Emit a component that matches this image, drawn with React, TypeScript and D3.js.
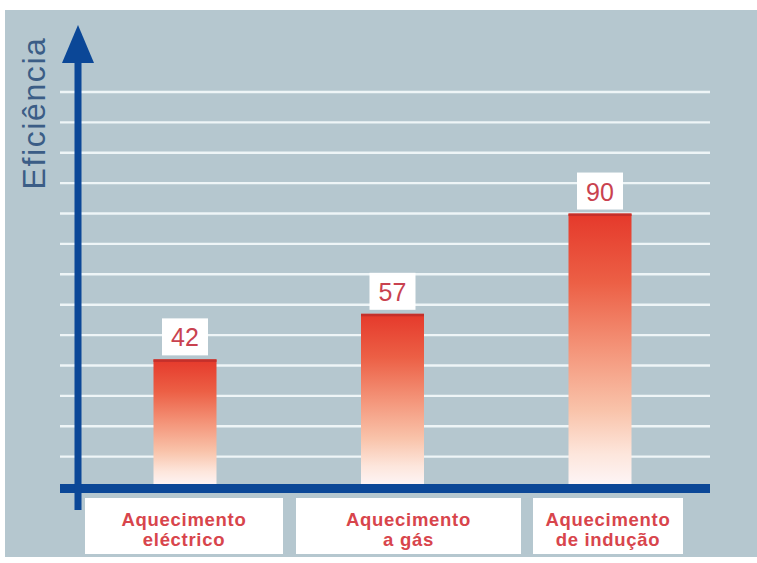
import React from "react";
import * as d3 from "d3";

const categories = ["eléctrico", "gás", "indução"];
const labelLine1 = ["Aquecimento", "Aquecimento", "Aquecimento"];
const labelLine2 = ["eléctrico", "a gás", "de indução"];
const values = [42, 57, 90];
const gridValues = [10, 20, 30, 40, 50, 60, 70, 80, 90, 100, 110, 120, 130];
const yTitle = "Eficiência";

const W = 757;
const H = 563;
const BG = "#b5c7cf";
const AXIS = "#0b4797";
const LABEL_RED = "#d8454c";

// layout for category label boxes (width, horizontal offset from bar centre)
const boxLayout = [
  { w: 198, dx: -1 },
  { w: 225, dx: 16 },
  { w: 150, dx: 8 },
];

export default function App() {
  const y = d3.scaleLinear().domain([0, 130]).range([487, 92]);
  const x = d3.scalePoint<string>().domain(categories).range([185, 600]);
  const barW = 63;
  const x0 = 60;
  const x1 = 710;

  return (
    <svg
      width={W}
      height={H}
      style={{ position: "absolute", left: 0, top: 0, display: "block" }}
      fontFamily="'Liberation Sans', Arial, sans-serif"
    >
      <defs>
        <linearGradient id="barGrad" x1="0" y1="0" x2="0" y2="1">
          <stop offset="0" stopColor="#e5392b" />
          <stop offset="0.25" stopColor="#ec5f45" />
          <stop offset="0.5" stopColor="#f4957a" />
          <stop offset="0.72" stopColor="#f9c3aa" />
          <stop offset="0.88" stopColor="#fde6dc" />
          <stop offset="1" stopColor="#fdf6f8" />
        </linearGradient>
      </defs>
      <rect x={0} y={0} width={W} height={H} fill="#ffffff" />
      <rect x={5} y={10} width={W - 5} height={547} fill={BG} />

      {/* gridlines */}
      {gridValues.map((v) => (
        <line
          key={v}
          x1={x0}
          x2={x1}
          y1={y(v)}
          y2={y(v)}
          stroke="#eef5f7"
          strokeWidth={2.4}
        />
      ))}

      {/* bars */}
      {categories.map((c, i) => {
        const cx = x(c)!;
        const top = y(values[i]);
        return (
          <g key={c}>
            <rect
              x={cx - barW / 2}
              y={top}
              width={barW}
              height={y(0) - top}
              fill="url(#barGrad)"
            />
            <rect x={cx - barW / 2} y={top} width={barW} height={2.5} fill="#c4302b" />
            <rect x={cx - 23} y={top - 41} width={46} height={37} fill="#ffffff" />
            <text
              x={cx}
              y={top - 13}
              textAnchor="middle"
              fontSize={25}
              fill="#c9424f"
            >
              {values[i]}
            </text>
          </g>
        );
      })}

      {/* axes */}
      <rect x={x0} y={484} width={x1 - x0} height={9} fill={AXIS} />
      <rect x={74.5} y={60} width={7} height={450} fill={AXIS} />
      <polygon points="62,63 94,63 78,25" fill={AXIS} />

      {/* y title */}
      <text
        transform="translate(45,113) rotate(-90)"
        textAnchor="middle"
        fontSize={32}
        letterSpacing={1.6}
        fill="#3b5d86"
      >
        {yTitle}
      </text>

      {/* category label boxes */}
      {categories.map((c, i) => {
        const cx = x(c)! + boxLayout[i].dx;
        const bw = boxLayout[i].w;
        return (
          <g key={"lab" + c}>
            <rect x={cx - bw / 2} y={498} width={bw} height={56} fill="#ffffff" />
            <text
              x={cx}
              y={526}
              textAnchor="middle"
              fontSize={18.5}
              fontWeight="bold"
              letterSpacing={0.7}
              fill={LABEL_RED}
            >
              {labelLine1[i]}
            </text>
            <text
              x={cx}
              y={546}
              textAnchor="middle"
              fontSize={18.5}
              fontWeight="bold"
              letterSpacing={0.7}
              fill={LABEL_RED}
            >
              {labelLine2[i]}
            </text>
          </g>
        );
      })}
    </svg>
  );
}
